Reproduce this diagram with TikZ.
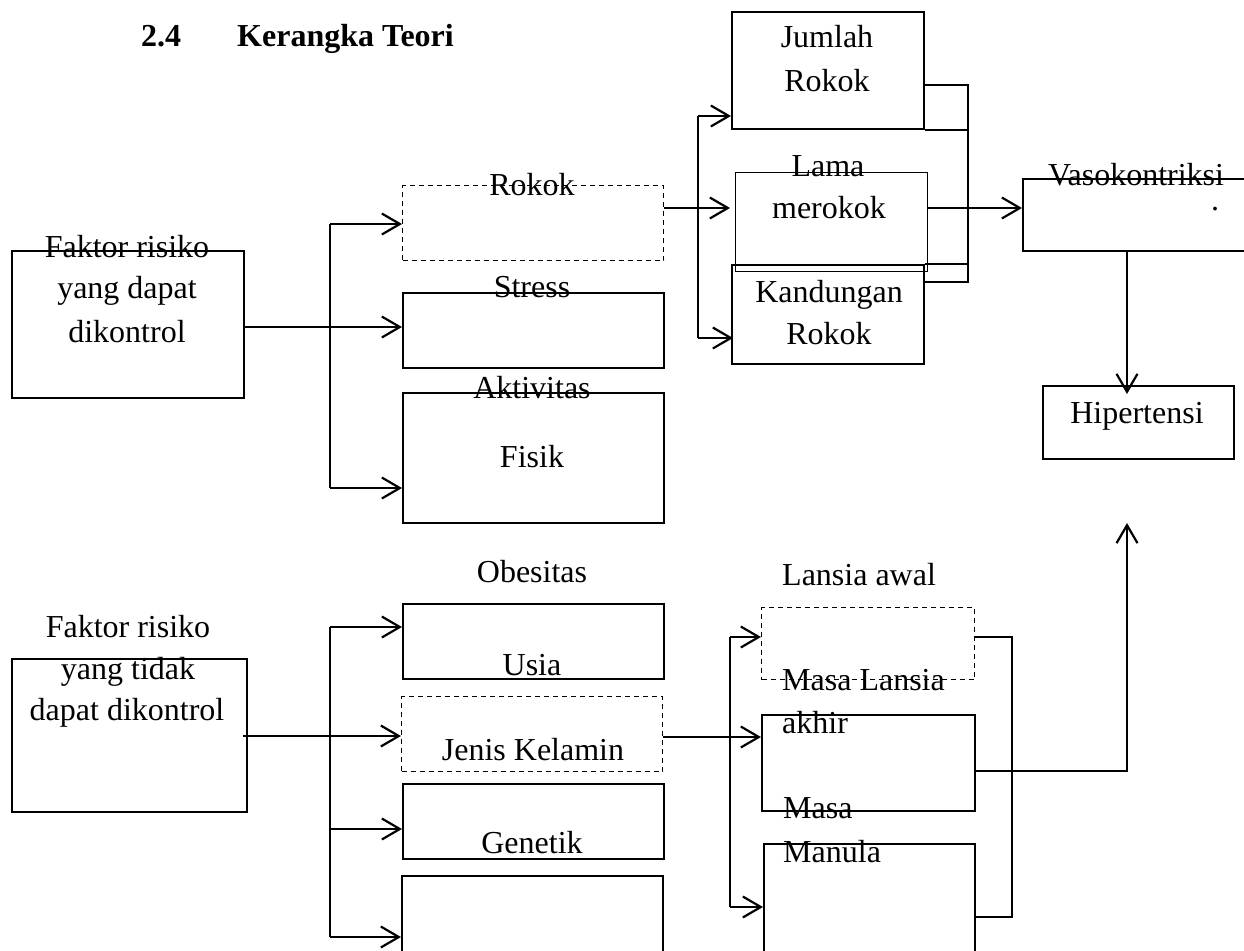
\documentclass[tikz,border=0pt]{standalone}
\usepackage{fontspec}
\setmainfont{Liberation Serif}
\usetikzlibrary{arrows.meta,calc}
\begin{document}
\begin{tikzpicture}[x=1pt,y=-1pt,
  box/.style={draw, line width=1.5pt, inner sep=0pt, anchor=north west},
  tbox/.style={box, line width=2.2pt},
  dbox/.style={box, line width=1.3pt, dash pattern=on 5pt off 4pt},
  lbl/.style={font=\fontsize{32}{40}\selectfont, inner sep=0pt, anchor=base},
  lbll/.style={lbl, anchor=base west},
  conn/.style={line width=2.2pt},
  arr/.style={conn, -{Straight Barb[length=18pt,width=21pt]}},
]
\useasboundingbox (0,0) rectangle (1244,950);
\clip (0,0) rectangle (1244,950);
\fill[white] (0,0) rectangle (1244,950);

% title
\node[lbll, font=\fontsize{32}{40}\selectfont\bfseries] (t1) at (141,47) {2.4};
\node[lbll, font=\fontsize{32}{40}\selectfont\bfseries] (t2) at (237,47) {Kerangka Teori};

% ---------- boxes ----------
\node[box, minimum width=232pt, minimum height=147pt] (fr1) at (11,250) {};
\node[dbox, minimum width=261pt, minimum height=75pt] (rokok) at (402,185) {};
\node[box, minimum width=261pt, minimum height=75pt] (stress) at (402,292) {};
\node[box, minimum width=261pt, minimum height=130pt] (akt) at (402,392) {};
\node[tbox, minimum width=192pt, minimum height=117pt] (jumlah) at (731,11) {};
\node[box, line width=1.1pt, minimum width=192pt, minimum height=99pt] (lama) at (735,172) {};
\node[tbox, minimum width=192pt, minimum height=99pt] (kand) at (731,264) {};
\node[box, minimum width=240pt, minimum height=72pt] (vaso) at (1022,178) {};
\node[box, minimum width=191pt, minimum height=73pt] (hip) at (1042,385) {};

\node[box, minimum width=235pt, minimum height=153pt] (fr2) at (11,658) {};
\node[box, minimum width=261pt, minimum height=75pt] (obes) at (402,603) {};
\node[dbox, minimum width=261pt, minimum height=75pt] (jenis) at (401,696) {};
\node[box, minimum width=261pt, minimum height=75pt] (gen) at (402,783) {};
\node[box, minimum width=261pt, minimum height=100pt] (last) at (401,875) {};
\node[dbox, minimum width=213pt, minimum height=72pt] (lans) at (761,607) {};
\node[box, minimum width=213pt, minimum height=96pt] (akhir) at (761,714) {};
\node[box, minimum width=211pt, minimum height=130pt] (manula) at (763,843) {};

% ---------- labels ----------
\node[lbl] (l1) at (127,257) {Faktor risiko};
\node[lbl] (l2) at (127,298) {yang dapat};
\node[lbl] (l3) at (127,342) {dikontrol};
\node[lbl] (l4) at (532,195) {Rokok};
\node[lbl] (l5) at (532,297) {Stress};
\node[lbl] (l6) at (532,398) {Aktivitas};
\node[lbl] (l7) at (532,467) {Fisik};
\node[lbl] (l8) at (827,48) {Jumlah};
\node[lbl] (l9) at (827,92) {Rokok};
\node[lbl] (l10) at (828,176) {Lama};
\node[lbl] (l11) at (829,218) {merokok};
\node[lbl] (l12) at (829,302) {Kandungan};
\node[lbl] (l13) at (829,344) {Rokok};
\node[lbl] (l14) at (1136,185) {Vasokontriksi};
\node[lbl] (l15) at (1215,210) {.};
\node[lbl] (l16) at (1137,423) {Hipertensi};

\node[lbl] (m1) at (128,637) {Faktor risiko};
\node[lbl] (m2) at (128,679) {yang tidak};
\node[lbl] (m3) at (127,720) {dapat dikontrol};
\node[lbl] (m4) at (532,582) {Obesitas};
\node[lbl] (m5) at (532,675) {Usia};
\node[lbl] (m6) at (533,760) {Jenis Kelamin};
\node[lbl] (m7) at (532,853) {Genetik};
\node[lbll] (m8) at (782,585) {Lansia awal};
\node[lbll] (m9) at (782,690) {Masa Lansia};
\node[lbll] (m10) at (782,733) {akhir};
\node[lbll] (m11) at (783,818) {Masa};
\node[lbll] (m12) at (783,862) {Manula};

% ---------- connectors top ----------
\coordinate (b1) at (330,327);
\coordinate (b1t) at (330,224);
\coordinate (b1b) at (330,488);
\draw[conn] (fr1.east |- b1) -- (b1);
\draw[conn] (b1t) -- (b1b);
\draw[arr] (b1t) -- (rokok.west |- b1t);
\draw[arr] (b1) -- (stress.west |- b1);
\draw[arr] (b1b) -- (akt.west |- b1b);

\coordinate (b2) at (698,208);
\coordinate (b2t) at (698,116);
\coordinate (b2b) at (698,338);
\draw[conn] (rokok.east |- b2) -- (b2);
\draw[conn] (b2t) -- (b2b);
\draw[arr] (b2t) -- (jumlah.west |- b2t);
\draw[arr] (b2) -- ($(lama.west |- b2)+(-5,0)$);
\draw[arr] (b2b) -- ($(kand.west |- b2b)+(2,0)$);

\coordinate (r1) at (968,85);
\coordinate (r2) at (968,282);
\draw[conn] (jumlah.east |- r1) -- (r1) -- (r2) -- (kand.east |- r2);
\draw[conn] (jumlah.south east) -- (jumlah.south east -| r1);
\draw[conn] (kand.north east) -- (kand.north east -| r1);

\draw[arr] (lama.east |- b2) -- (vaso.west |- b2);

\coordinate (vx) at (1127,250);
\draw[arr] (vaso.south -| vx) -- ($(hip.north -| vx)+(0,9)$);

% ---------- connectors bottom ----------
\coordinate (b3) at (330,736);
\coordinate (b3t) at (330,627);
\coordinate (b3g) at (330,829);
\coordinate (b3b) at (330,937);
\draw[conn] ($(fr2.east |- b3)+(-5,0)$) -- (b3);
\draw[conn] (b3t) -- (b3b);
\draw[arr] (b3t) -- (obes.west |- b3t);
\draw[arr] (b3) -- (jenis.west |- b3);
\draw[arr] (b3g) -- (gen.west |- b3g);
\draw[arr] (b3b) -- (last.west |- b3b);

\coordinate (b4) at (730,737);
\coordinate (b4t) at (730,637);
\coordinate (b4b) at (730,907);
\draw[conn] (jenis.east |- b4) -- (b4);
\draw[conn] (b4t) -- (b4b);
\draw[arr] (b4t) -- (lans.west |- b4t);
\draw[arr] (b4) -- (akhir.west |- b4);
\draw[arr] (b4b) -- (manula.west |- b4b);

\coordinate (r3) at (1012,637);
\coordinate (r4) at (1012,917);
\draw[conn, line width=1.8pt] (lans.east |- r3) -- (r3) -- (r4) -- (manula.east |- r4);

\coordinate (r5) at (1127,771);
\coordinate (up) at (1127,523);
\draw[arr] (akhir.east |- r5) -- (r5) -- (up);
\end{tikzpicture}
\end{document}
